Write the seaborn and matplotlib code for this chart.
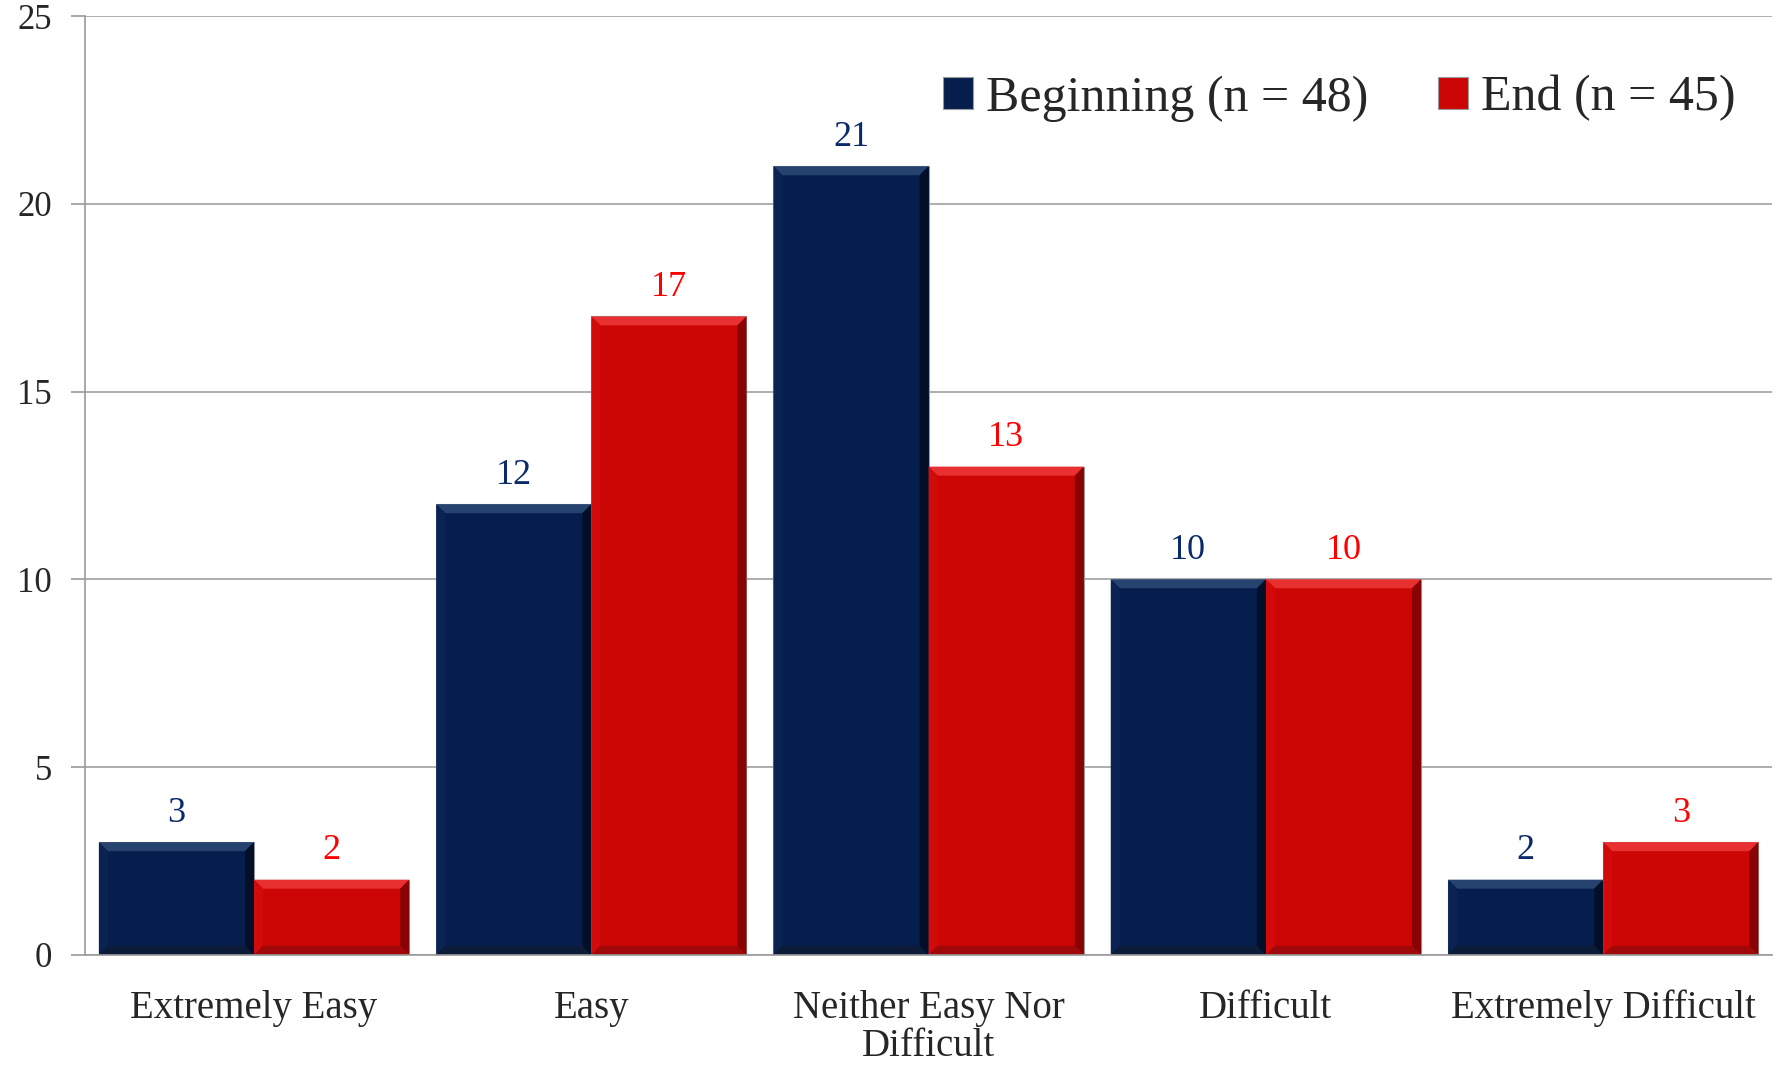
import matplotlib.pyplot as plt
import pandas as pd
import seaborn as sns
from matplotlib.patches import Polygon

categories = ["Extremely Easy", "Easy", "Neither Easy Nor\nDifficult", "Difficult", "Extremely Difficult"]
beginning = [3, 12, 21, 10, 2]
end = [2, 17, 13, 10, 3]
series_names = ["Beginning (n = 48)", "End (n = 45)"]
y_ticks = [0, 5, 10, 15, 20, 25]

bar_colors = ["#061e4d", "#cc0505"]
label_colors = ["#0a2a6a", "#ff0000"]
# bevel shades per series: top, left, bottom, right
bevel_colors = [
    ["#26426f", "#0a2352", "#0c1b38", "#030e29"],
    ["#e83030", "#d20a0a", "#a00909", "#880303"],
]

df = pd.DataFrame(
    {
        "category": categories * 2,
        "count": beginning + end,
        "series": [series_names[0]] * len(categories) + [series_names[1]] * len(categories),
    }
)

sns.set_theme(style="white")
plt.rcParams["font.family"] = ["Liberation Serif", "DejaVu Serif"]

fig = plt.figure(figsize=(17.79, 10.68), dpi=100)
ax = fig.add_axes([0.048, 0.106, 0.948, 0.879])

sns.barplot(
    data=df, x="category", y="count", hue="series",
    palette=bar_colors, width=0.92, ax=ax,
    edgecolor="#9a9a9a", linewidth=0.8, saturation=1,
)

ax.set_ylim(0, 25)
ax.set_xlim(-0.5, len(categories) - 0.5)

# bevel look: thin shaded bands along each bar's edges (about 9 px)
ax_w_px = 0.948 * 1779
ax_h_px = 0.879 * 1068
dx = 9 * len(categories) / ax_w_px
dy = 9 * 25 / ax_h_px
for container, shades in zip(ax.containers, bevel_colors):
    for p in container.patches:
        x0, w, h = p.get_x(), p.get_width(), p.get_height()
        x1, y1 = x0 + w, h
        top, left, bottom, right = shades
        bands = [
            ([(x0, y1), (x1, y1), (x1 - dx, y1 - dy), (x0 + dx, y1 - dy)], top),
            ([(x0, 0), (x0 + dx, dy), (x0 + dx, y1 - dy), (x0, y1)], left),
            ([(x0, 0), (x1, 0), (x1 - dx, dy), (x0 + dx, dy)], bottom),
            ([(x1, 0), (x1, y1), (x1 - dx, y1 - dy), (x1 - dx, dy)], right),
        ]
        for pts, c in bands:
            ax.add_patch(Polygon(pts, closed=True, facecolor=c, edgecolor="none", zorder=p.get_zorder() + 0.1))

# value labels in the series colour
for container, col in zip(ax.containers, label_colors):
    ax.bar_label(container, padding=9, color=col, fontsize=26)

ax.set_yticks(y_ticks)
ax.set_yticklabels([str(t) for t in y_ticks], fontsize=25)
ax.yaxis.grid(True, color="#a0a0a0", linewidth=1.2)
ax.set_axisbelow(True)

ax.set_xticks(range(len(categories)))
ax.set_xticklabels(categories, fontsize=28, linespacing=1.05)
ax.set_xticks([i - 0.5 for i in range(len(categories) + 1)], minor=True)
ax.tick_params(axis="x", which="major", length=0, pad=25)
ax.tick_params(axis="x", which="minor", length=10, width=1.2, color="#999999", direction="out")
ax.tick_params(axis="y", length=10, width=1.2, color="#999999", direction="out", pad=14, left=True)

for side in ["top", "right"]:
    ax.spines[side].set_visible(False)
for side in ["left", "bottom"]:
    ax.spines[side].set_color("#999999")
    ax.spines[side].set_linewidth(1.2)

ax.set_xlabel("")
ax.set_ylabel("")

leg = ax.legend(
    loc="upper right", bbox_to_anchor=(1.005, 0.985), ncol=2, frameon=False,
    fontsize=36, handlelength=0.6, handleheight=0.6, handletextpad=0.25,
    columnspacing=1.4,
)

fig.savefig("out.png", dpi=100)
